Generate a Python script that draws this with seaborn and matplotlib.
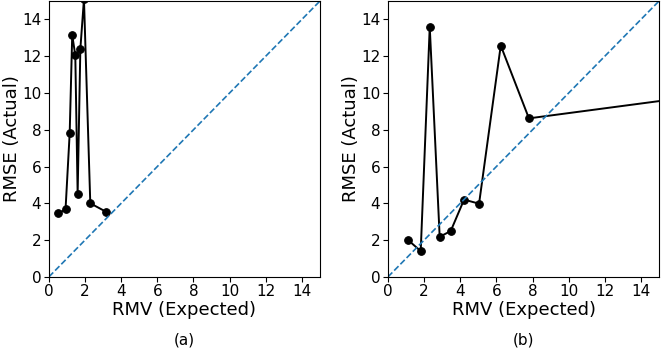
import numpy as np
import pandas as pd
import matplotlib
matplotlib.use('Agg')
import matplotlib.pyplot as plt
import seaborn as sns

# data
rmv_a = [0.52, 0.92, 1.15, 1.29, 1.46, 1.59, 1.74, 1.94, 2.29, 3.18]
rmse_a = [3.45, 3.67, 7.82, 13.15, 12.05, 4.51, 12.40, 15.10, 4.00, 3.53]

rmv_b = [1.09, 1.81, 2.31, 2.86, 3.47, 4.21, 5.04, 6.24, 7.80, 22.0]
rmse_b = [2.02, 1.40, 13.60, 2.18, 2.49, 4.20, 3.98, 12.58, 8.62, 10.47]

diag = [0, 15]
ticks = [0, 2, 4, 6, 8, 10, 12, 14]
panel_labels = ['(a)', '(b)']

df_a = pd.DataFrame({'RMV': rmv_a, 'RMSE': rmse_a})
df_b = pd.DataFrame({'RMV': rmv_b, 'RMSE': rmse_b})

fig = plt.figure(figsize=(6.61, 3.5), dpi=100)
ax1 = fig.add_axes([0.074, 0.209, 0.410, 0.788])
ax2 = fig.add_axes([0.587, 0.209, 0.410, 0.788])

for ax, df, lab in zip([ax1, ax2], [df_a, df_b], panel_labels):
    sns.lineplot(data=df, x='RMV', y='RMSE', sort=False, marker='o', color='black',
                 markersize=5.5, markeredgecolor='black', linewidth=1.4, ax=ax)
    ax.plot(diag, diag, linestyle='--', color='#1f77b4', linewidth=1.2)
    ax.set_xlim(0, 15)
    ax.set_ylim(0, 15)
    ax.set_xticks(ticks)
    ax.set_yticks(ticks)
    ax.tick_params(labelsize=11, pad=2)
    ax.set_xlabel('RMV (Expected)', fontsize=13, labelpad=1)
    ax.set_ylabel('RMSE (Actual)', fontsize=13, labelpad=1)
    ax.text(0.5, -0.228, lab, transform=ax.transAxes, ha='center', va='center', fontsize=11)

fig.savefig('out.png', dpi=100)
